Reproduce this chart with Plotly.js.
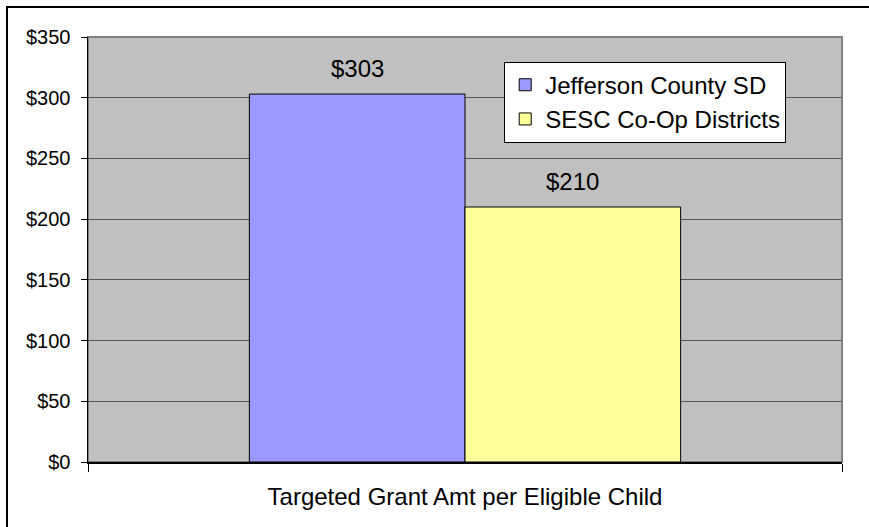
<!DOCTYPE html>
<html>
<head>
<meta charset="utf-8">
<script src="https://cdn.plot.ly/plotly-3.0.1.min.js"></script>
<style>
  html, body { margin: 0; padding: 0; background: #ffffff; overflow: hidden; }
  #wrap { position: relative; width: 869px; height: 527px; overflow: hidden; }
  #chart { position: absolute; left: 0; top: 0; width: 869px; height: 527px; }
  #frame { position: absolute; left: 6px; top: 6px; width: 900px; height: 560px;
           border: 2px solid #000; pointer-events: none; }
</style>
</head>
<body>
<div id="wrap">
  <div id="chart"></div>
  <div id="frame"></div>
</div>
<script>
// ---- data ----
const categories = ["Targeted Grant Amt per Eligible Child"];
const seriesNames = ["Jefferson County SD", "SESC Co-Op Districts"];
const jeffersonValues = [303];
const sescValues = [210];
const yTickValues = [0, 50, 100, 150, 200, 250, 300, 350];
const yTickLabels = ["$0", "$50", "$100", "$150", "$200", "$250", "$300", "$350"];

// ---- style ----
const FONT = "'Liberation Sans', Arial, sans-serif";
const colors = ["#9999FF", "#FFFF99"];
const BARGAP = 0.428;

const seriesValues = [jeffersonValues, sescValues];

const traces = seriesValues.map((vals, i) => ({
  type: "bar",
  name: seriesNames[i],
  x: categories,
  y: vals,
  marker: { color: colors[i], line: { color: "#000000", width: 1 } },
  hoverinfo: "none"
}));

// data labels above each bar (positioned in data coords; grouped offset from bargap)
const halfBar = (1 - BARGAP) / 4;
const annotations = [];
seriesValues.forEach((vals, i) => {
  vals.forEach((v, j) => {
    annotations.push({
      x: j + (i === 0 ? -halfBar : halfBar),
      y: v,
      xref: "x", yref: "y",
      text: "$" + v,
      showarrow: false,
      yanchor: "bottom",
      yshift: 10,
      font: { family: FONT, size: 24, color: "#000000" }
    });
  });
});

const layout = {
  width: 869,
  height: 527,
  margin: { l: 88, r: 27, t: 37, b: 65, pad: 0 },
  paper_bgcolor: "#ffffff",
  plot_bgcolor: "#C0C0C0",
  barmode: "group",
  bargap: BARGAP,
  bargroupgap: 0,
  showlegend: true,
  legend: {
    x: 0.552, y: 0.942, xanchor: "left", yanchor: "top",
    bgcolor: "#ffffff",
    bordercolor: "#000000",
    borderwidth: 1,
    font: { family: FONT, size: 24, color: "#000000" },
    itemwidth: 30,
    tracegroupgap: 0
  },
  xaxis: {
    type: "category",
    tickson: "boundaries",
    ticks: "outside",
    ticklen: 8,
    tickcolor: "#000000",
    tickwidth: 1,
    showline: true,
    linecolor: "#000000",
    linewidth: 1.5,
    showgrid: false,
    zeroline: false,
    tickfont: { family: FONT, size: 24, color: "#000000" },
    ticklabelstandoff: 13,
    automargin: false
  },
  yaxis: {
    range: [0, 350],
    tickvals: yTickValues,
    ticktext: yTickLabels,
    ticks: "outside",
    ticklen: 6,
    tickcolor: "#000000",
    tickwidth: 1,
    showline: true,
    linecolor: "#000000",
    linewidth: 1.5,
    showgrid: true,
    gridcolor: "#555555",
    gridwidth: 1,
    zeroline: false,
    tickfont: { family: FONT, size: 20, color: "#000000" },
    ticklabelstandoff: 6,
    automargin: false
  },
  shapes: [{
    type: "rect", xref: "paper", yref: "paper",
    x0: 0, x1: 1, y0: 0, y1: 1,
    line: { color: "#808080", width: 2 },
    fillcolor: "rgba(0,0,0,0)",
    layer: "below"
  }],
  annotations: annotations
};

Plotly.newPlot("chart", traces, layout, { displayModeBar: false, staticPlot: true });
</script>
</body>
</html>
